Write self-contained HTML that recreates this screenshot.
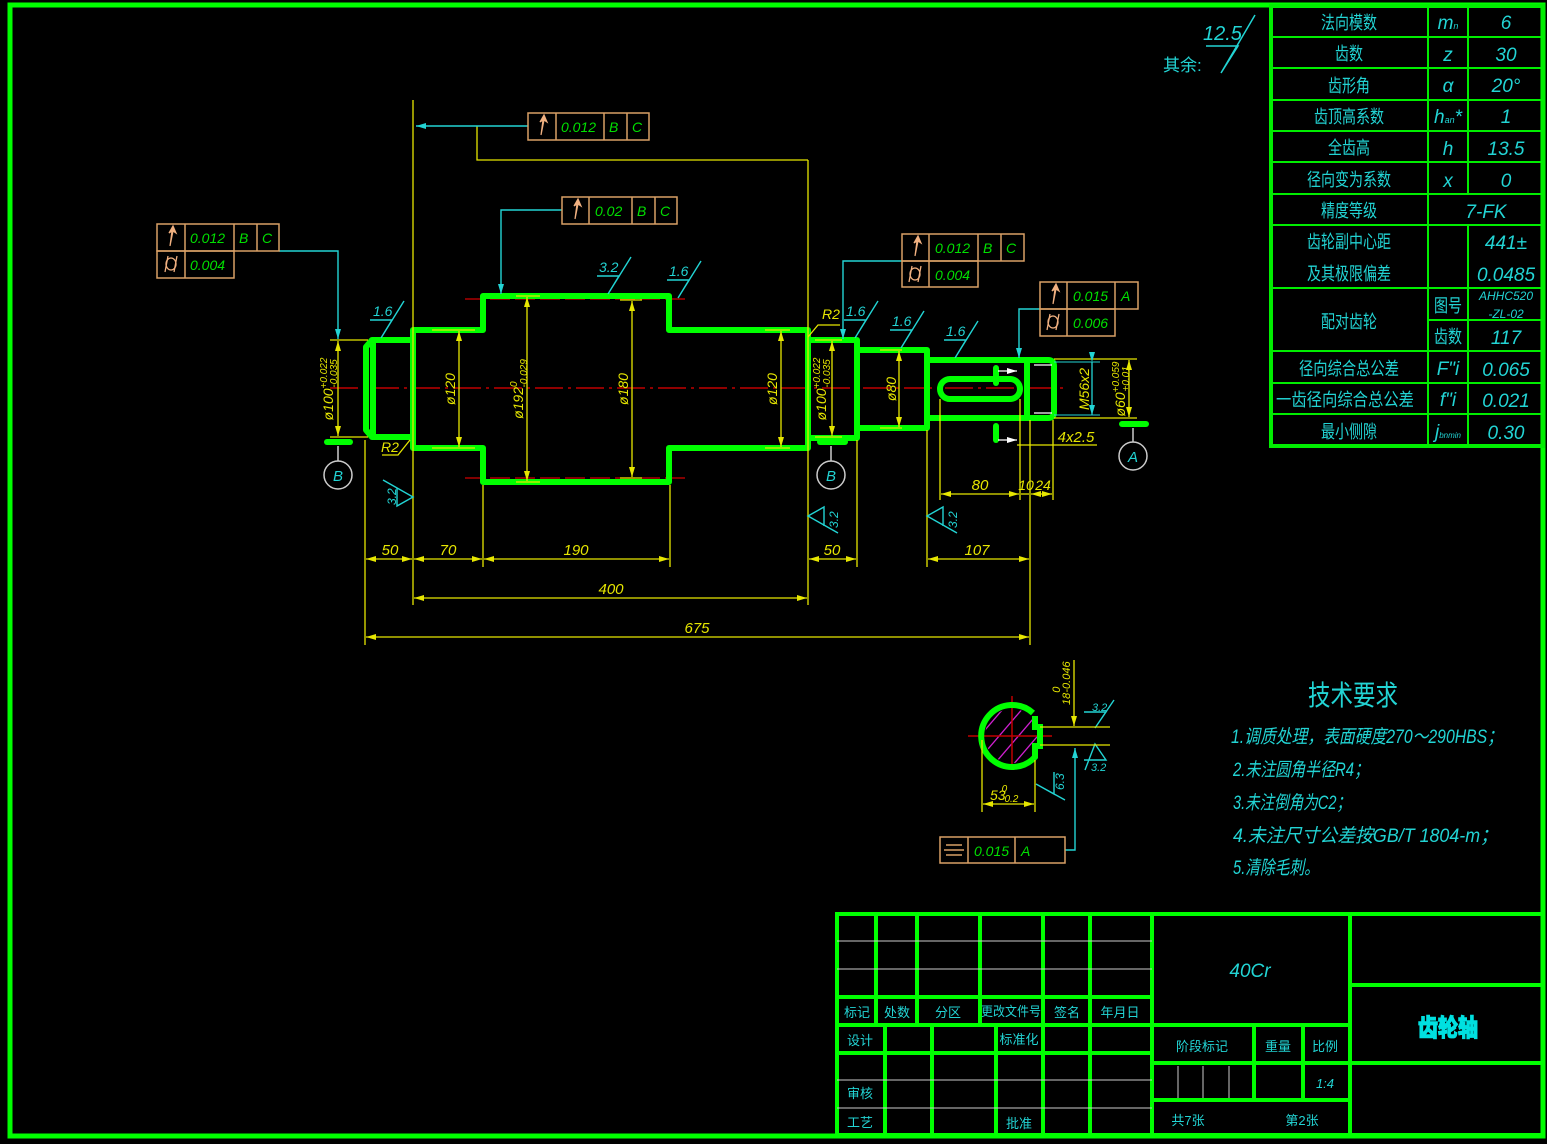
<!DOCTYPE html>
<html><head><meta charset="utf-8"><style>
html,body{margin:0;padding:0;background:#000;}
svg{display:block}
text{font-family:"Liberation Sans","Noto Sans CJK SC",sans-serif;}
.c{fill:#22d4d4}
.y{fill:#e6e600}
.g{fill:#00e000}
.it{font-style:italic}
</style></head><body>
<svg width="1547" height="1144" viewBox="0 0 1547 1144" xmlns="http://www.w3.org/2000/svg">
<defs>
<marker id="ay" viewBox="0 0 10 6" refX="10" refY="3" markerWidth="10" markerHeight="6" orient="auto-start-reverse" markerUnits="userSpaceOnUse"><path d="M0,0L10,3L0,6z" fill="#e6e600"/></marker>
<marker id="ac" viewBox="0 0 10 6" refX="10" refY="3" markerWidth="10" markerHeight="6" orient="auto" markerUnits="userSpaceOnUse"><path d="M0,0L10,3L0,6z" fill="#22d4d4"/></marker>
<marker id="aw" viewBox="0 0 10 6" refX="10" refY="3" markerWidth="10" markerHeight="6" orient="auto" markerUnits="userSpaceOnUse"><path d="M0,0L10,3L0,6z" fill="#fff"/></marker>
</defs>
<rect width="1547" height="1144" fill="#000"/>
<rect x="10" y="5" width="1533" height="1131" fill="none" stroke="#00ff00" stroke-width="5"/>

<!-- param table -->
<g stroke="#00ee00" fill="none">
<rect x="1271" y="6" width="272" height="440" stroke-width="4"/>
<g stroke-width="2">
<line x1="1428" y1="6" x2="1428" y2="446"/>
<line x1="1468" y1="6" x2="1468" y2="194"/>
<line x1="1468" y1="225" x2="1468" y2="446"/>
<line x1="1271" y1="37" x2="1543" y2="37"/><line x1="1271" y1="68" x2="1543" y2="68"/>
<line x1="1271" y1="100" x2="1543" y2="100"/><line x1="1271" y1="131" x2="1543" y2="131"/>
<line x1="1271" y1="162" x2="1543" y2="162"/><line x1="1271" y1="194" x2="1543" y2="194"/>
<line x1="1271" y1="225" x2="1543" y2="225"/><line x1="1271" y1="288" x2="1543" y2="288"/>
<line x1="1428" y1="320" x2="1543" y2="320"/>
<line x1="1271" y1="351" x2="1543" y2="351"/><line x1="1271" y1="383" x2="1543" y2="383"/>
<line x1="1271" y1="414" x2="1543" y2="414"/>
</g></g>
<g class="c" font-size="18" text-anchor="middle" lengthAdjust="spacingAndGlyphs">
<text x="1349" y="29" textLength="56" lengthAdjust="spacingAndGlyphs">法向模数</text>
<text x="1349" y="60" textLength="28" lengthAdjust="spacingAndGlyphs">齿数</text>
<text x="1349" y="92" textLength="42" lengthAdjust="spacingAndGlyphs">齿形角</text>
<text x="1349" y="123" textLength="70" lengthAdjust="spacingAndGlyphs">齿顶高系数</text>
<text x="1349" y="154" textLength="42" lengthAdjust="spacingAndGlyphs">全齿高</text>
<text x="1349" y="186" textLength="84" lengthAdjust="spacingAndGlyphs">径向变为系数</text>
<text x="1349" y="217" textLength="56" lengthAdjust="spacingAndGlyphs">精度等级</text>
<text x="1349" y="248" textLength="84" lengthAdjust="spacingAndGlyphs">齿轮副中心距</text>
<text x="1349" y="280" textLength="84" lengthAdjust="spacingAndGlyphs">及其极限偏差</text>
<text x="1349" y="328" textLength="56" lengthAdjust="spacingAndGlyphs">配对齿轮</text>
<text x="1349" y="375" textLength="100" lengthAdjust="spacingAndGlyphs">径向综合总公差</text>
<text x="1345" y="406" textLength="138" lengthAdjust="spacingAndGlyphs">一齿径向综合总公差</text>
<text x="1349" y="438" textLength="56" lengthAdjust="spacingAndGlyphs">最小侧隙</text>
<text x="1448" y="312" textLength="28" lengthAdjust="spacingAndGlyphs">图号</text>
<text x="1448" y="343" textLength="28" lengthAdjust="spacingAndGlyphs">齿数</text>
</g>
<g class="c it" font-size="19" text-anchor="middle">
<text x="1448" y="29">m<tspan font-size="9">n</tspan></text><text x="1448" y="61">z</text><text x="1448" y="92">α</text>
<text x="1448" y="123">h<tspan font-size="9">an</tspan>*</text><text x="1448" y="155">h</text><text x="1448" y="187">x</text>
<text x="1448" y="375">F"i</text><text x="1448" y="406">f"i</text><text x="1448" y="438">j<tspan font-size="8">bnmin</tspan></text>
<text x="1506" y="29">6</text><text x="1506" y="61">30</text><text x="1506" y="92">20°</text><text x="1506" y="123">1</text>
<text x="1506" y="155">13.5</text><text x="1506" y="187">0</text><text x="1486" y="218">7-FK</text>
<text x="1506" y="249">441±</text><text x="1506" y="281">0.0485</text>
<text x="1506" y="300" font-size="12">AHHC520</text><text x="1506" y="318" font-size="12">-ZL-02</text>
<text x="1506" y="344">117</text><text x="1506" y="376">0.065</text><text x="1506" y="407">0.021</text><text x="1506" y="439">0.30</text>
</g>

<!-- 其余 roughness -->
<g stroke="#22d4d4" stroke-width="1.5" fill="none"><path d="M1206,46 L1238,46 L1221,73 L1255,15"/></g>
<text class="c it" x="1203" y="40" font-size="20">12.5</text>
<text class="c" x="1163" y="71" font-size="17">其余:</text>

<!-- centerline -->
<line x1="330" y1="388" x2="1065" y2="388" stroke="#c00000" stroke-width="1.5" stroke-dasharray="28,5,3,5"/>
<line x1="465" y1="299" x2="688" y2="299" stroke="#d00000" stroke-width="1.2" stroke-dasharray="20,5"/>
<line x1="465" y1="478" x2="688" y2="478" stroke="#d00000" stroke-width="1.2" stroke-dasharray="20,5"/>

<!-- shaft -->
<g stroke="#00ff00" stroke-width="6" fill="none" stroke-linejoin="round">
<path d="M372,340 L413,340 L413,330 L483,330 L483,296 L669,296 L669,330 L808,330 L808,340 L857,340 L857,350 L927,350 L927,360 L1027,360 L1027,418 L927,418 L927,428 L857,428 L857,438 L808,438 L808,448 L669,448 L669,482 L483,482 L483,448 L413,448 L413,437 L372,437 L366,430 L366,347 Z"/>
<line x1="373" y1="342" x2="373" y2="436"/>
<line x1="413" y1="330" x2="413" y2="448"/>
<line x1="808" y1="330" x2="808" y2="448"/>
<line x1="857" y1="340" x2="857" y2="438"/>
<line x1="927" y1="350" x2="927" y2="428"/>
<path d="M1027,360 L1048,360 Q1054,360 1054,366 L1054,412 Q1054,418 1048,418 L1027,418"/>
<rect x="940" y="379" width="80" height="20" rx="10"/>
</g>
<g stroke="#00ff00" stroke-width="6" stroke-linecap="round">
<line x1="327" y1="442" x2="350" y2="442"/><line x1="820" y1="442" x2="845" y2="442"/>
<line x1="1122" y1="424" x2="1146" y2="424"/>
<line x1="996" y1="368" x2="996" y2="383"/><line x1="996" y1="426" x2="996" y2="440"/>
</g>
<g stroke="#fff" stroke-width="1.2"><line x1="1034" y1="365" x2="1052" y2="365"/><line x1="1034" y1="413" x2="1052" y2="413"/>
<line x1="338" y1="446" x2="338" y2="461"/><line x1="831" y1="446" x2="831" y2="461"/><line x1="1133" y1="428" x2="1133" y2="442"/></g>
<line x1="998" y1="371" x2="1017" y2="371" stroke="#fff" stroke-width="1.2" marker-end="url(#aw)"/>
<line x1="998" y1="440" x2="1017" y2="440" stroke="#fff" stroke-width="1.2" marker-end="url(#aw)"/>
<g fill="none" stroke="#ccc" stroke-width="1.5"><circle cx="338" cy="475" r="14"/><circle cx="831" cy="475" r="14"/><circle cx="1133" cy="456" r="14"/></g>
<g class="c it" font-size="15" text-anchor="middle"><text x="338" y="481">B</text><text x="831" y="481">B</text><text x="1133" y="462">A</text></g>

<!-- yellow dimensions -->
<g stroke="#e6e600" stroke-width="1.3" fill="none">
<line x1="365" y1="440" x2="365" y2="645"/><line x1="413" y1="100" x2="413" y2="605"/>
<line x1="483" y1="485" x2="483" y2="567"/><line x1="670" y1="485" x2="670" y2="567"/>
<line x1="808" y1="160" x2="808" y2="605"/><line x1="857" y1="440" x2="857" y2="567"/>
<line x1="927" y1="430" x2="927" y2="567"/><line x1="1030" y1="420" x2="1030" y2="645"/>
<line x1="940" y1="399" x2="940" y2="500"/><line x1="1020" y1="399" x2="1020" y2="500"/><line x1="1053" y1="420" x2="1053" y2="500"/>
<polyline points="477,126 477,160 808,160"/>
<line x1="330" y1="340" x2="368" y2="340"/><line x1="330" y1="437" x2="368" y2="437"/>
<line x1="432" y1="330" x2="475" y2="330"/><line x1="432" y1="448" x2="475" y2="448"/>
<line x1="516" y1="296" x2="540" y2="296"/><line x1="516" y1="482" x2="540" y2="482"/>
<line x1="620" y1="300" x2="642" y2="300"/><line x1="620" y1="478" x2="642" y2="478"/>
<line x1="765" y1="330" x2="790" y2="330"/><line x1="765" y1="448" x2="790" y2="448"/>
<line x1="815" y1="340" x2="842" y2="340"/><line x1="815" y1="437" x2="842" y2="437"/>
<line x1="880" y1="350" x2="902" y2="350"/><line x1="880" y1="428" x2="902" y2="428"/>
<line x1="1054" y1="359" x2="1137" y2="359"/><line x1="1054" y1="418" x2="1137" y2="418"/>
<line x1="1017" y1="445" x2="1097" y2="445"/>
<polyline points="382,455 398,455 410,440"/>
<polyline points="808,337 818,325 840,325"/>
</g>
<g stroke="#e6e600" stroke-width="1.3" marker-start="url(#ay)" marker-end="url(#ay)">
<line x1="338" y1="341" x2="338" y2="436"/>
<line x1="459" y1="331" x2="459" y2="447"/>
<line x1="527" y1="297" x2="527" y2="481"/>
<line x1="632" y1="301" x2="632" y2="477"/>
<line x1="781" y1="331" x2="781" y2="447"/>
<line x1="832" y1="341" x2="832" y2="436"/>
<line x1="899" y1="351" x2="899" y2="427"/>
<line x1="1129" y1="360" x2="1129" y2="417"/>
<line x1="366" y1="559" x2="412" y2="559"/><line x1="414" y1="559" x2="482" y2="559"/>
<line x1="484" y1="559" x2="669" y2="559"/><line x1="809" y1="559" x2="856" y2="559"/>
<line x1="928" y1="559" x2="1029" y2="559"/>
<line x1="414" y1="598" x2="807" y2="598"/>
<line x1="366" y1="637" x2="1029" y2="637"/>
<line x1="941" y1="494" x2="1019" y2="494"/>
<line x1="1031" y1="494" x2="1052" y2="494"/>
</g>
<line x1="1021" y1="494" x2="1029" y2="494" stroke="#e6e600" stroke-width="1.3"/>
<g stroke="#22d4d4" stroke-width="1.3" marker-start="url(#ac)" marker-end="url(#ac)"><line x1="1092" y1="362" x2="1092" y2="415"/></g>
<g stroke="#22d4d4" stroke-width="1"><line x1="1054" y1="362" x2="1100" y2="362"/><line x1="1054" y1="415" x2="1100" y2="415"/></g>

<g class="y it" font-size="15" text-anchor="middle">
<text x="390" y="555">50</text><text x="448" y="555">70</text><text x="576" y="555">190</text>
<text x="832" y="555">50</text><text x="977" y="555">107</text><text x="611" y="594">400</text>
<text x="697" y="633">675</text><text x="980" y="490">80</text><text x="1026" y="490" font-size="14">10</text><text x="1043" y="490" font-size="14">24</text>
<text x="1076" y="442">4x2.5</text>
<text x="390" y="452" font-size="14">R2</text><text x="831" y="319" font-size="14">R2</text>
</g>
<g class="y it" font-size="14" text-anchor="middle">
<text transform="translate(455,389) rotate(-90)">ø120</text>
<text transform="translate(628,389) rotate(-90)">ø180</text>
<text transform="translate(777,389) rotate(-90)">ø120</text>
<text transform="translate(896,389) rotate(-90)">ø80</text>
<text transform="translate(1089,389) rotate(-90)">M56x2</text>
<text transform="translate(333,389) rotate(-90)">ø100<tspan font-size="10" dy="-6">+0.022</tspan><tspan font-size="10" dx="-30" dy="10">-0.035</tspan></text>
<text transform="translate(826,389) rotate(-90)">ø100<tspan font-size="10" dy="-6">+0.022</tspan><tspan font-size="10" dx="-30" dy="10">-0.035</tspan></text>
<text transform="translate(523,389) rotate(-90)">ø192<tspan font-size="10" dy="-6">0</tspan><tspan font-size="10" dx="-6" dy="10">-0.029</tspan></text>
<text transform="translate(1125,389) rotate(-90)">ø60<tspan font-size="10" dy="-6">+0.059</tspan><tspan font-size="10" dx="-30" dy="10">+0.01</tspan></text>
</g>

<!-- roughness symbols -->
<g stroke="#22d4d4" stroke-width="1.4" fill="none">
<path d="M370,320 L392,320 L381,338 L404,301"/>
<path d="M597,276 L619,276 L608,294 L631,257"/>
<path d="M667,280 L689,280 L678,298 L701,261"/>
<path d="M844,320 L866,320 L855,338 L878,301"/>
<path d="M890,330 L912,330 L901,348 L924,311"/>
<path d="M944,340 L966,340 L955,358 L978,321"/>
<path d="M397,488 L397,506 L413,497 L383,480"/>
<path d="M824,526 L824,507 L808,516 L838,533"/>
<path d="M943,526 L943,507 L927,516 L957,533"/>
<path d="M1084,712 L1106,712 L1095,728 L1114,700"/>
<path d="M1084,760 L1106,760 L1095,744 L1085,770"/>
<path d="M1054,772 L1054,794 L1036,784 L1065,800"/>
</g>
<g class="c it" font-size="14">
<text x="373" y="316">1.6</text><text x="599" y="272">3.2</text><text x="669" y="276">1.6</text>
<text x="846" y="316">1.6</text><text x="892" y="326">1.6</text><text x="946" y="336">1.6</text>
<text x="1092" y="711" font-size="11">3.2</text><text x="1091" y="771" font-size="11">3.2</text>
<text transform="translate(396,505) rotate(-90)" font-size="12">3.2</text>
<text transform="translate(838,528) rotate(-90)" font-size="12">3.2</text>
<text transform="translate(957,528) rotate(-90)" font-size="12">3.2</text>
<text transform="translate(1064,790) rotate(-90)" font-size="12">6.3</text>
</g>

<!-- cyan leaders -->
<g stroke="#22d4d4" stroke-width="1.4" fill="none">
<line x1="528" y1="126" x2="416" y2="126" marker-end="url(#ac)"/>
<polyline points="562,210 501,210 501,294" marker-end="url(#ac)"/>
<polyline points="279,251 338,251 338,339" marker-end="url(#ac)"/>
<polyline points="902,261 843,261 843,339" marker-end="url(#ac)"/>
<polyline points="1040,309 1019,309 1019,358" marker-end="url(#ac)"/>
<polyline points="1065,850 1075,850 1075,748" marker-end="url(#ac)"/>
</g>

<!-- tolerance frames -->
<g stroke="#d9a066" stroke-width="1.5" fill="none">
<rect x="528" y="113" width="121" height="27"/><line x1="556" y1="113" x2="556" y2="140"/><line x1="604" y1="113" x2="604" y2="140"/><line x1="627" y1="113" x2="627" y2="140"/>
<rect x="562" y="197" width="115" height="27"/><line x1="589" y1="197" x2="589" y2="224"/><line x1="632" y1="197" x2="632" y2="224"/><line x1="655" y1="197" x2="655" y2="224"/>
<rect x="157" y="224" width="122" height="27"/><line x1="185" y1="224" x2="185" y2="278"/><line x1="234" y1="224" x2="234" y2="251"/><line x1="257" y1="224" x2="257" y2="251"/>
<rect x="157" y="251" width="77" height="27"/>
<rect x="902" y="234" width="122" height="27"/><line x1="929" y1="234" x2="929" y2="287"/><line x1="978" y1="234" x2="978" y2="261"/><line x1="1001" y1="234" x2="1001" y2="261"/>
<rect x="902" y="261" width="76" height="26"/>
<rect x="1040" y="282" width="98" height="27"/><line x1="1067" y1="282" x2="1067" y2="336"/><line x1="1115" y1="282" x2="1115" y2="309"/>
<rect x="1040" y="309" width="75" height="27"/>
<rect x="940" y="837" width="125" height="26"/><line x1="968" y1="837" x2="968" y2="863"/><line x1="1015" y1="837" x2="1015" y2="863"/>
<line x1="946" y1="845" x2="962" y2="845"/><line x1="944" y1="850" x2="964" y2="850"/><line x1="946" y1="855" x2="962" y2="855"/>
</g>
<g fill="#f0b080" stroke="#f0b080" stroke-width="1.2">
<path d="M541,135 L543,120 L540,122 L544,115 L547,122 L544,120 Z"/>
<path d="M575,219 L577,204 L574,206 L578,199 L581,206 L578,204 Z"/>
<path d="M170,246 L172,231 L169,233 L173,226 L176,233 L173,231 Z"/>
<path d="M915,256 L917,241 L914,243 L918,236 L921,243 L918,241 Z"/>
<path d="M1053,304 L1055,289 L1052,291 L1056,284 L1059,291 L1056,289 Z"/>
</g>
<g stroke="#f0b080" stroke-width="1.3" fill="none">
<ellipse cx="171" cy="264" rx="5" ry="6"/><line x1="165" y1="272" x2="168" y2="256"/><line x1="174" y1="272" x2="177" y2="256"/>
<ellipse cx="915" cy="274" rx="5" ry="6"/><line x1="909" y1="282" x2="912" y2="266"/><line x1="918" y1="282" x2="921" y2="266"/>
<ellipse cx="1053" cy="322" rx="5" ry="6"/><line x1="1047" y1="330" x2="1050" y2="314"/><line x1="1056" y1="330" x2="1059" y2="314"/>
</g>
<g class="g it" font-size="14">
<text x="561" y="132">0.012</text><text x="609" y="132">B</text><text x="632" y="132">C</text>
<text x="595" y="216">0.02</text><text x="637" y="216">B</text><text x="660" y="216">C</text>
<text x="190" y="243">0.012</text><text x="239" y="243">B</text><text x="262" y="243">C</text><text x="190" y="270">0.004</text>
<text x="935" y="253">0.012</text><text x="983" y="253">B</text><text x="1006" y="253">C</text><text x="935" y="280">0.004</text>
<text x="1073" y="301">0.015</text><text x="1121" y="301">A</text><text x="1073" y="328">0.006</text>
<text x="974" y="856">0.015</text><text x="1021" y="856">A</text>
</g>

<!-- section view -->
<defs><clipPath id="sc"><circle cx="1012" cy="736" r="27"/></clipPath></defs>
<g clip-path="url(#sc)" stroke="#d020d0" stroke-width="1.3">
<line x1="970" y1="770" x2="1030" y2="700"/><line x1="985" y1="775" x2="1045" y2="705"/><line x1="1000" y1="780" x2="1060" y2="710"/>
<line x1="955" y1="765" x2="1015" y2="695"/><line x1="940" y1="760" x2="1000" y2="690"/>
</g>
<g stroke="#c00000" stroke-width="1.5"><line x1="968" y1="736" x2="1052" y2="736"/><line x1="1012" y1="696" x2="1012" y2="768"/></g>
<path d="M1033,713 A31,31 0 1 0 1035,757 L1035,746 L1040,746 L1040,727 L1035,727 L1035,716" fill="none" stroke="#00ff00" stroke-width="6"/>
<g stroke="#e6e600" stroke-width="1.3" fill="none">
<line x1="1040" y1="727" x2="1110" y2="727"/><line x1="1040" y1="745" x2="1110" y2="745"/>
<line x1="1074" y1="660" x2="1074" y2="726" marker-end="url(#ay)"/>
<line x1="982" y1="740" x2="982" y2="812"/><line x1="1035" y1="760" x2="1035" y2="812"/>
<line x1="983" y1="804" x2="1034" y2="804" marker-start="url(#ay)" marker-end="url(#ay)"/>
</g>
<text class="y it" x="990" y="800" font-size="14">53<tspan font-size="10" dy="-8" dx="-4">0</tspan><tspan font-size="10" dy="10" dx="-6">-0.2</tspan></text>
<text class="y it" transform="translate(1070,705) rotate(-90)" font-size="11">18<tspan dy="-10">0</tspan><tspan dx="-6" dy="10">-0.046</tspan></text>

<!-- technical requirements -->
<g class="c">
<text x="1308" y="705" font-size="28" textLength="90" lengthAdjust="spacingAndGlyphs">技术要求</text>
<g class="it" font-size="19">
<text x="1231" y="743" textLength="272" lengthAdjust="spacingAndGlyphs">1.调质处理，表面硬度270～290HBS；</text>
<text x="1233" y="776" textLength="136" lengthAdjust="spacingAndGlyphs">2.未注圆角半径R4；</text>
<text x="1233" y="809" textLength="118" lengthAdjust="spacingAndGlyphs">3.未注倒角为C2；</text>
<text x="1233" y="842" textLength="265" lengthAdjust="spacingAndGlyphs">4.未注尺寸公差按GB/T 1804-m；</text>
<text x="1233" y="874" textLength="86" lengthAdjust="spacingAndGlyphs">5.清除毛刺。</text>
</g></g>

<!-- title block -->
<g stroke="#00ff00" fill="none" stroke-width="4">
<rect x="837" y="914" width="706" height="221"/>
<line x1="1152" y1="914" x2="1152" y2="1135"/><line x1="1350" y1="914" x2="1350" y2="1135"/>
<line x1="1350" y1="985" x2="1543" y2="985"/><line x1="1350" y1="1063" x2="1543" y2="1063"/>
<line x1="837" y1="997" x2="1152" y2="997"/><line x1="837" y1="1025" x2="1350" y2="1025"/><line x1="837" y1="1053" x2="1152" y2="1053"/>
<line x1="876" y1="914" x2="876" y2="1025"/><line x1="917" y1="914" x2="917" y2="1025"/><line x1="980" y1="914" x2="980" y2="1025"/>
<line x1="1043" y1="914" x2="1043" y2="1135"/><line x1="1090" y1="914" x2="1090" y2="1135"/>
<line x1="885" y1="1025" x2="885" y2="1135"/><line x1="932" y1="1025" x2="932" y2="1135"/><line x1="996" y1="1025" x2="996" y2="1135"/>
<line x1="1152" y1="1063" x2="1350" y2="1063"/><line x1="1152" y1="1100" x2="1350" y2="1100"/>
<line x1="1254" y1="1025" x2="1254" y2="1100"/><line x1="1303" y1="1025" x2="1303" y2="1100"/>
</g>
<g stroke="#ccc" stroke-width="1"><line x1="837" y1="941" x2="1152" y2="941"/><line x1="837" y1="969" x2="1152" y2="969"/>
<line x1="837" y1="1080" x2="1152" y2="1080"/><line x1="837" y1="1108" x2="1152" y2="1108"/>
<line x1="1178" y1="1066" x2="1178" y2="1098"/><line x1="1203" y1="1066" x2="1203" y2="1098"/><line x1="1229" y1="1066" x2="1229" y2="1098"/></g>
<g class="c" font-size="13" text-anchor="middle">
<text x="857" y="1017">标记</text><text x="897" y="1017">处数</text><text x="948" y="1017">分区</text>
<text x="1011" y="1016" textLength="60" lengthAdjust="spacingAndGlyphs">更改文件号</text><text x="1067" y="1017">签名</text><text x="1120" y="1017">年月日</text>
<text x="860" y="1045">设计</text><text x="1019" y="1044">标准化</text><text x="860" y="1098">审核</text><text x="860" y="1127">工艺</text>
<text x="1019" y="1128">批准</text><text x="1202" y="1051">阶段标记</text><text x="1278" y="1051">重量</text><text x="1325" y="1051">比例</text>
<text x="1188" y="1125">共7张</text><text x="1302" y="1125">第2张</text>
<text class="it" x="1325" y="1088">1:4</text>
<text class="it" x="1250" y="977" font-size="19">40Cr</text>
</g>
<text x="1448" y="1036" font-size="24" font-weight="bold" text-anchor="middle" fill="#00e0e0" stroke="#00e0e0" stroke-width="1.5" textLength="60" lengthAdjust="spacingAndGlyphs">齿轮轴</text>
</svg>
</body></html>
